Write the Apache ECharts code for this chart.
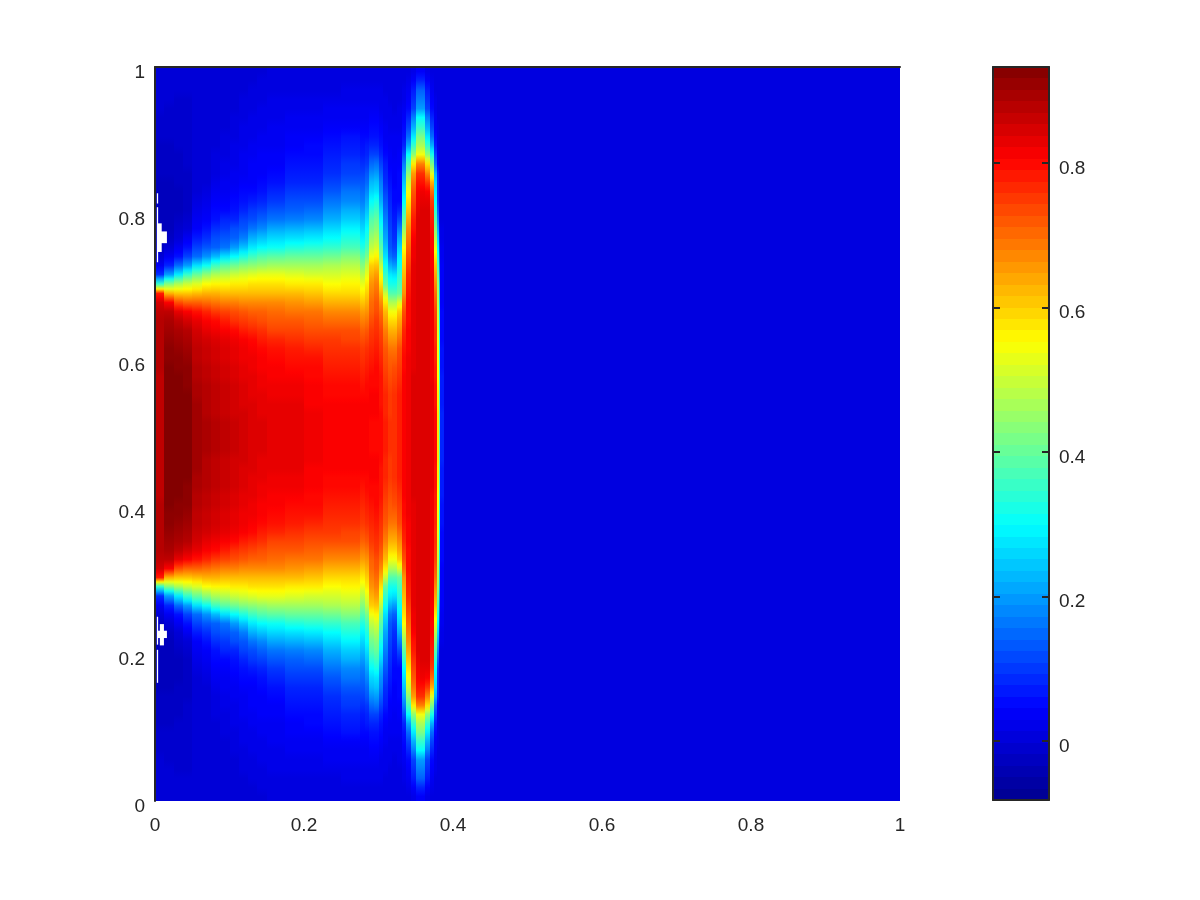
<!DOCTYPE html>
<html>
<head>
<meta charset="utf-8">
<script src="https://cdn.jsdelivr.net/npm/echarts@6/dist/echarts.min.js"></script>
<style>
html,body{margin:0;padding:0;background:#fff}
#main{width:1200px;height:900px}
</style>
</head>
<body>
<div id="main"></div>
<script>
// column edges along x (fine around the ridges), the last column runs out to 1
var xEdges = [0,.0125,.025,.0375,.05,.0625,.075,.0875,.1,.1125,.125,.1375,.15,.175,.2,.225,.25,.275,
  .28125,.2875,.29375,.3,.30625,.3125,.31875,.325,.33125,.3375,.34375,.35,.35625,.3625,.36875,.375,
  .37875,.3806,.3832,.3875,.39375,1];
var yMiddle = 0.4966;   // the picture is mirrored about this height
var restValue = 1;      // hundredths, everything right of the last listed column

// values in hundredths, rows from the top edge down to the middle
var upperRows = [
[0,0,0,0, 0,0,0,0,0,0,0,0, 1,1,1,1,1, 1,1,1,1,1,1,1,1, 1,1,1,2,4,4,2,1, 1,1,1,1,1],
[0,0,0,0, 0,0,0,0,0,0,0,1, 1,1,1,1,1, 1,1,1,1,1,1,1,1, 1,1,2,4,8,8,4,2, 1,1,1,1,1],
[0,0,0,0, 0,0,0,0,0,0,1,1, 1,1,1,1,2, 2,2,2,2,2,1,1,1, 1,2,3,7,14,14,7,3, 1,1,1,1,1],
[0,0,-1,-1, 0,0,0,0,0,1,1,1, 2,2,2,2,2, 2,2,2,2,2,2,1,1, 1,2,4,9,17,17,9,4, 2,1,1,1,1],
[0,-1,-1,-1, 0,0,0,0,0,1,1,2, 2,2,2,3,3, 3,3,3,3,2,2,2,1, 2,3,5,11,20,20,11,5, 2,1,1,1,1],
[-1,-1,-1,-1, 0,0,0,0,1,1,2,2, 2,3,3,3,3, 3,3,4,4,3,2,2,2, 2,4,8,17,30,30,17,8, 3,1,1,1,1],
[-1,-1,-1,-1, 0,0,0,0,1,2,2,2, 3,3,3,4,4, 4,4,5,5,4,3,2,2, 2,5,11,22,35,35,22,11, 3,2,1,1,1],
[-1,-1,-1,-1, 0,0,0,1,1,2,2,3, 3,4,4,5,6, 5,5,6,6,5,3,3,3, 3,6,15,28,42,42,28,15, 5,2,1,1,1],
[-2,-2,-1,-1, 0,0,0,1,2,2,3,3, 3,4,5,6,7, 6,7,8,8,6,4,3,3, 3,8,21,35,47,47,35,22, 7,2,1,1,1],
[-2,-2,-2,-1, 0,0,1,1,2,3,3,4, 4,5,5,7,8, 7,8,11,11,8,5,4,3, 4,12,30,44,54,54,44,32, 11,3,1,1,1],
[-2,-2,-2,-1, 0,0,1,2,2,3,4,4, 4,6,6,8,10, 9,10,15,16,11,7,4,4, 4,17,37,57,68,68,58,42, 15,4,1,1,1],
[-2,-2,-2,-2, 0,0,1,2,3,3,4,4, 5,7,7,9,11, 11,13,19,20,14,8,5,4, 5,21,44,65,76,76,67,52, 22,8,2,1,1],
[-3,-3,-2,-2, 0,0,2,3,3,4,4,5, 6,8,8,11,13, 13,15,23,24,17,9,6,4, 5,24,50,69,79,79,75,63, 26,9,2,1,1],
[-3,-3,-3,-2, 0,1,3,3,4,5,5,6, 8,10,10,13,16, 15,18,26,27,19,11,7,5, 5,27,54,72,81,82,81,70, 28,9,3,1,1],
[-3,-3,-3,-2, 1,2,4,4,5,6,7,8, 10,12,12,16,18, 17,21,30,32,22,13,8,5, 5,30,58,74,82,83,83,75, 30,10,3,1,1],
[-3,-3,-3,-2, 2,3,5,5,6,8,10,11, 13,14,15,19,22, 20,24,34,36,26,15,9,6, 8,35,61,76,83,84,84,77, 34,14,3,1,1],
[-3,-3,-2,-1, 3,4,6,8,8,11,12,14, 16,17,18,22,25, 23,27,38,40,29,17,10,7, 12,39,64,78,84,84,84,78, 38,18,4,1,1],
[-3,-3,-1,0, 4,6,9,10,12,13,16,18, 21,22,23,26,29, 26,30,41,43,32,19,11,8, 17,44,67,79,84,84,84,79, 43,22,6,2,1],
[-3,-2,0,3, 7,9,12,13,14,17,22,24, 26,27,28,30,33, 29,33,45,47,35,21,12,9, 22,50,69,81,84,84,84,80, 48,26,8,2,1],
[-2,0,3,6, 11,13,14,16,20,24,28,30, 31,33,34,35,37, 33,37,49,51,39,24,13,11, 26,55,71,82,84,84,84,80, 53,29,11,3,1],
[0,3,6,11, 15,19,23,27,30,33,36,38, 39,40,40,41,43, 38,42,54,56,43,27,16,14, 29,58,73,82,84,84,84,81, 57,33,14,3,1],
[3,8,15,20, 27,31,36,39,41,43,44,45, 46,46,46,47,48, 43,49,60,61,49,31,22,20, 31,60,75,83,84,84,84,81, 61,37,17,4,1],
[9,20,28,35, 40,44,47,48,50,51,52,53, 53,52,51,51,52, 48,53,63,65,54,35,28,27, 34,62,77,83,84,84,84,82, 64,41,20,4,1],
[35,43,47,50, 52,55,56,56,57,57,58,58, 58,57,57,55,56, 53,57,66,68,58,40,32,32, 37,64,78,83,84,84,84,82, 67,45,23,4,1],
[78,63,61,61, 62,63,63,62,62,62,62,62, 62,62,61,59,59, 57,60,68,70,63,50,38,38, 40,66,79,83,84,84,84,82, 70,47,24,4,1],
[85,81,73,71, 71,70,69,68,68,67,67,67, 67,66,65,63,63, 61,63,70,72,67,57,47,47, 52,70,80,83,84,84,84,82, 72,48,25,4,1],
[87,87,83,81, 79,77,75,74,73,72,71,71, 70,69,69,67,67, 65,66,71,73,70,62,54,54, 60,73,80,83,84,84,84,82, 74,50,27,5,1],
[88,89,87,85, 83,81,80,78,76,75,74,73, 72,72,71,70,70, 68,69,73,75,72,65,59,59, 64,75,80,83,84,84,84,82, 75,51,28,5,1],
[88,90,89,88, 85,83,82,81,80,78,77,76, 74,74,73,73,73, 71,72,75,76,74,68,63,63, 67,77,81,83,84,84,84,82, 76,52,29,5,1],
[88,91,90,89, 86,85,84,83,82,81,80,78, 77,76,75,75,74, 73,74,76,77,75,70,66,66, 70,78,81,83,84,84,84,82, 76,53,30,5,1],
[88,92,91,90, 87,86,85,84,83,82,81,80, 79,78,77,76,76, 75,76,77,78,76,72,69,69, 73,79,81,83,84,84,84,82, 77,54,30,6,1],
[88,92,92,91, 87,86,85,84,83,82,82,81, 80,79,79,77,77, 76,77,78,79,77,73,71,71, 74,80,82,83,84,84,84,82, 77,54,31,6,1],
[88,93,92,92, 88,87,86,85,84,83,82,81, 81,80,80,78,78, 77,78,79,80,78,74,72,73, 75,80,82,83,84,84,84,82, 78,55,32,6,1],
[87,93,93,92, 88,87,86,85,84,83,83,82, 81,81,80,79,79, 78,79,80,80,79,75,73,74, 76,81,82,84,84,84,84,82, 78,55,33,7,1],
[87,93,93,92, 89,88,87,86,85,84,83,82, 82,82,81,80,80, 79,80,80,80,79,76,74,75, 77,81,82,84,84,84,84,83, 79,56,34,7,1],
[87,93,93,93, 89,88,87,86,85,84,83,83, 82,82,81,80,80, 80,80,81,81,79,77,75,76, 78,81,82,84,84,84,84,83, 79,57,35,7,1],
[87,93,93,93, 90,88,87,86,85,84,84,83, 83,83,81,81,81, 81,81,81,81,79,77,75,76, 78,81,82,84,84,84,84,83, 79,57,35,7,1],
[87,93,93,93, 90,88,87,86,85,85,84,83, 83,83,82,81,81, 81,81,81,81,80,77,75,76, 78,81,82,84,84,84,84,83, 80,58,36,8,1],
[87,93,93,93, 90,89,88,87,86,85,84,84, 83,83,82,81,81, 81,81,80,80,80,78,76,76, 78,81,82,84,84,84,84,83, 80,58,36,8,1],
[87,93,93,93, 90,89,88,87,86,85,84,84, 83,83,82,81,81, 81,81,80,80,80,78,76,76, 78,81,82,84,84,84,84,83, 80,58,36,8,1]
];

// undefined cells that show up white: x0,x1,y0,y1
var blankPatches = [
[.0025,.0042,.814,.828],[.0025,.0042,.734,.809],
[.004,.016,.760,.776],[.004,.009,.748,.787],
[.0025,.0042,.213,.251],[.0025,.0042,.161,.206],
[.004,.016,.222,.232],[.0065,.012,.212,.241]
];

var barTicks = [0,.2,.4,.6,.8];
var barMin = -0.0817, barMax = 0.933, barLevels = 64;
var jetStops = ['#00008f','#0000ff','#0080ff','#00ffff','#80ff80','#ffff00','#ff8000','#ff0000','#800000'];

var textColor = '#262626';
var labelFont = {color:textColor, fontFamily:'Liberation Sans', fontSize:19};
// pushes the tick labels a few pixels under their ticks
var lowered = {verticalAlign:'top', lineHeight:11};

function jetColor(v){
    return echarts.color.lerp((v-barMin)/(barMax-barMin), jetStops);
}

// build cells [x0,x1,y0,y1,value,valueAtTop,valueAtBottom]
var cells = [];
var n = upperRows.length;
function addRow(row, above, below, y0, y1){
    for(var j=0; j<xEdges.length-1; j++){
        var last = j>=row.length;
        var v = last ? restValue : row[j];
        var a = last ? v : (above[j]+v)/2;
        var b = last ? v : (below[j]+v)/2;
        cells.push([xEdges[j], xEdges[j+1], y0, y1, v/100, a/100, b/100]);
    }
}
for(var i=0; i<n; i++){
    var topStep = (1-yMiddle)/n, lowStep = yMiddle/n;
    var toEdge = upperRows[i-1] || upperRows[i];
    var toMiddle = upperRows[i+1] || upperRows[i];
    addRow(upperRows[i], toEdge, toMiddle, 1-(i+1)*topStep, 1-i*topStep);
    addRow(upperRows[i], toMiddle, toEdge, i*lowStep, (i+1)*lowStep);
}

var barCells = [];
for(var k=0; k<barLevels; k++){
    var h = (barMax-barMin)/barLevels, mid = barMin+(k+.5)*h;
    barCells.push([0, 1, barMin+k*h, barMin+(k+1)*h, mid, mid, mid]);
}

function drawRect(params, api){
    var a = api.coord([api.value(0), api.value(3)]);
    var b = api.coord([api.value(1), api.value(2)]);
    var x = Math.round(a[0]), y = Math.round(a[1]);
    var fill = jetColor(api.value(4));
    if(api.value(5)!==api.value(6) || api.value(5)!==api.value(4)){
        fill = new echarts.graphic.LinearGradient(0,0,0,1,[
            {offset:0, color:jetColor(api.value(5))},
            {offset:.5, color:fill},
            {offset:1, color:jetColor(api.value(6))}
        ]);
    }
    return {
        type:'rect',
        shape:{x:x, y:y, width:Math.round(b[0])-x, height:Math.round(b[1])-y},
        style:{fill:fill}
    };
}
function drawBlank(params, api){
    var a = api.coord([api.value(0), api.value(3)]);
    var b = api.coord([api.value(1), api.value(2)]);
    return {
        type:'rect',
        shape:{x:a[0], y:a[1], width:b[0]-a[0], height:b[1]-a[1]},
        style:{fill:'#ffffff'}
    };
}

var edge = {show:true, onZero:false, lineStyle:{color:textColor, width:2}};
var myChart = echarts.init(document.getElementById('main'), null, {renderer:'canvas'});
myChart.setOption({
    animation:false,
    backgroundColor:'#fff',
    grid:[
        {left:155, top:67, width:745, height:734},
        {left:993, top:67, width:56, height:733}
    ],
    xAxis:[
        {type:'value', gridIndex:0, min:0, max:1, interval:.2, position:'bottom', z:5,
         axisLine:{show:false}, axisTick:{show:false}, splitLine:{show:false},
         axisLabel:Object.assign({margin:15}, labelFont)},
        {type:'value', gridIndex:0, min:0, max:1, position:'top', z:5,
         axisLine:edge, axisTick:{show:false}, splitLine:{show:false}, axisLabel:{show:false}},
        {type:'value', gridIndex:1, min:0, max:1, position:'bottom', z:5,
         axisLine:edge, axisTick:{show:false}, splitLine:{show:false}, axisLabel:{show:false}},
        {type:'value', gridIndex:1, min:0, max:1, position:'top', z:5,
         axisLine:edge, axisTick:{show:false}, splitLine:{show:false}, axisLabel:{show:false}}
    ],
    yAxis:[
        {type:'value', gridIndex:0, min:0, max:1, interval:.2, position:'left', z:5,
         axisLine:edge, axisTick:{show:false}, splitLine:{show:false},
         axisLabel:Object.assign({margin:10}, lowered, labelFont)},
        {type:'value', gridIndex:1, min:barMin, max:barMax, position:'left', z:5,
         axisLine:edge, splitLine:{show:false}, axisLabel:{show:false},
         axisTick:{show:true, inside:true, length:7, customValues:barTicks, lineStyle:{color:textColor, width:2}}},
        {type:'value', gridIndex:1, min:barMin, max:barMax, position:'right', z:5,
         axisLine:edge, splitLine:{show:false},
         axisTick:{show:true, inside:true, length:7, customValues:barTicks, lineStyle:{color:textColor, width:2}},
         axisLabel:Object.assign({margin:10, customValues:barTicks}, lowered, labelFont)}
    ],
    series:[
        {type:'custom', xAxisIndex:0, yAxisIndex:0, z:1, clip:true, silent:true,
         encode:{x:[0,1], y:[2,3]}, renderItem:drawRect, data:cells},
        {type:'custom', xAxisIndex:2, yAxisIndex:1, z:1, clip:true, silent:true,
         encode:{x:[0,1], y:[2,3]}, renderItem:drawRect, data:barCells},
        {type:'custom', xAxisIndex:0, yAxisIndex:0, z:2, clip:true, silent:true,
         encode:{x:[0,1], y:[2,3]}, renderItem:drawBlank, data:blankPatches}
    ]
});
</script>
</body>
</html>
